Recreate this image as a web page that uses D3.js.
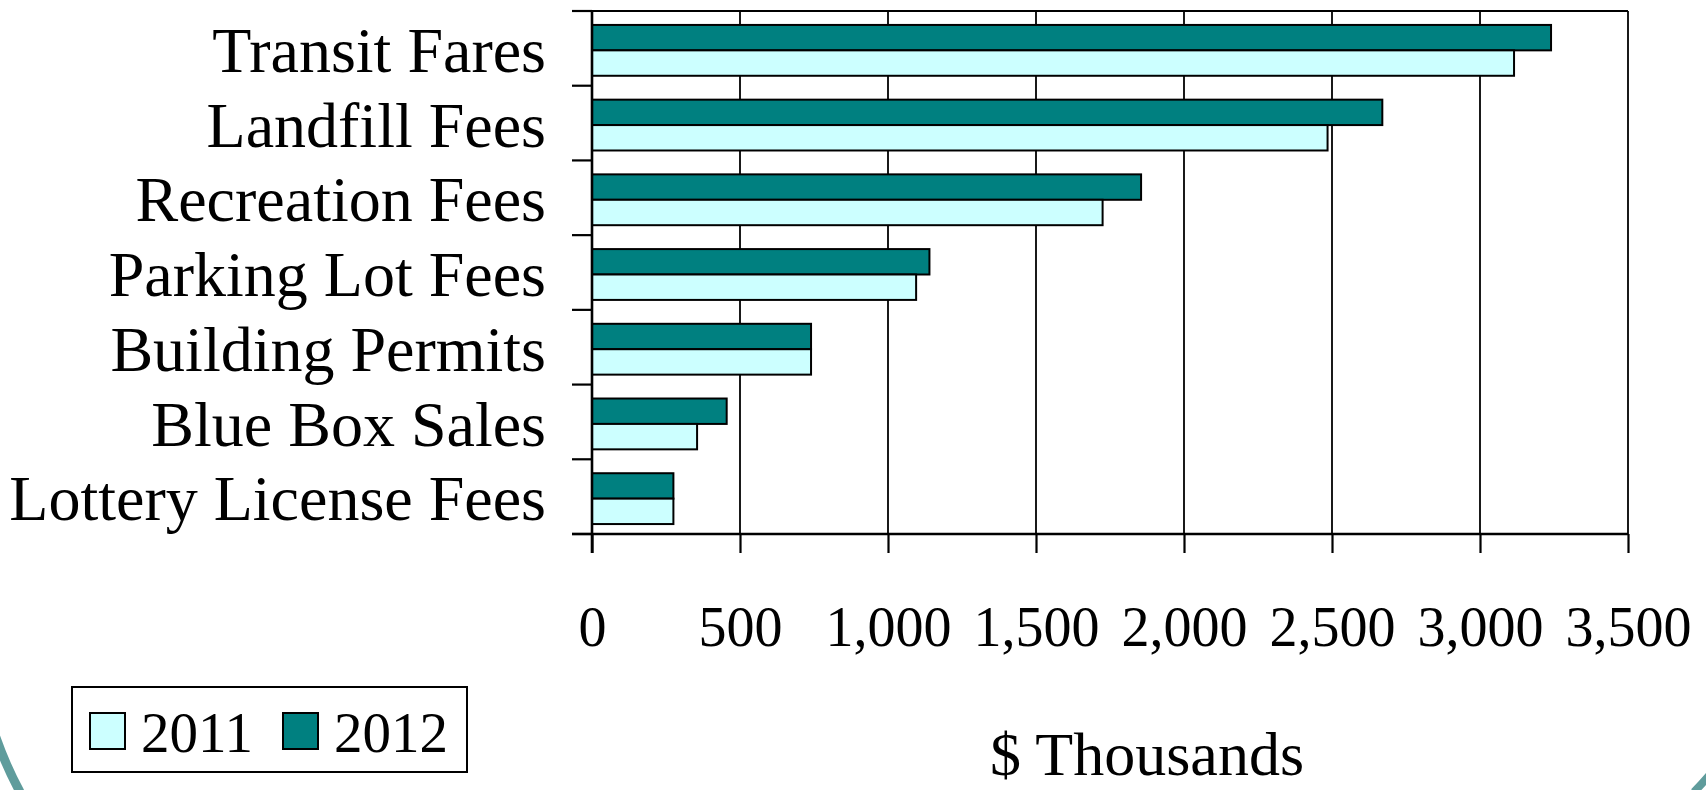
<!DOCTYPE html>
<html>
<head>
<meta charset="utf-8">
<script src="https://cdn.jsdelivr.net/npm/d3@7"></script>
<style>
  body { margin: 0; background: #fff; }
  svg { display: block; }
  text { font-family: "Liberation Serif", "Times New Roman", serif; fill: #000; }
</style>
</head>
<body>
<svg id="chart" width="1706" height="790"></svg>
<script>
// Chart data
const categories = [
  "Transit Fares",
  "Landfill Fees",
  "Recreation Fees",
  "Parking Lot Fees",
  "Building Permits",
  "Blue Box Sales",
  "Lottery License Fees"
];
const values2011 = [3115, 2485, 1725, 1095, 740, 355, 275];
const values2012 = [3240, 2670, 1855, 1140, 740, 455, 275];
const xTicks = [0, 500, 1000, 1500, 2000, 2500, 3000, 3500];
const legendYears = ["2011", "2012"];

const svg = d3.select("#chart");
const colors = { "2011": "#ccffff", "2012": "#008080" };

const plot = { left: 592, right: 1628, top: 11, bottom: 534 };

const x = d3.scaleLinear()
  .domain([0, 3500])
  .range([plot.left, plot.right]);

const y0 = d3.scaleBand()
  .domain(categories)
  .range([plot.top, plot.bottom])
  .padding(0);

// 2012 sits above 2011 inside each band
const y1 = d3.scaleBand()
  .domain(["2012", "2011"])
  .range([0, y0.bandwidth()])
  .paddingInner(0)
  .paddingOuter(0.47);

const rows = categories.map((c, i) => ({
  cat: c,
  bars: [
    { year: "2012", value: values2012[i] },
    { year: "2011", value: values2011[i] }
  ]
}));

// slide decoration in the corners
svg.append("path")
  .attr("d", "M -6 732 A 392 392 0 0 0 20 792")
  .attr("fill", "none")
  .attr("stroke", "#5f9c9c")
  .attr("stroke-width", 9);
svg.append("path")
  .attr("d", "M 1712 772 A 392 392 0 0 1 1694 792")
  .attr("fill", "none")
  .attr("stroke", "#5f9c9c")
  .attr("stroke-width", 8);

// vertical gridlines
svg.append("g")
  .selectAll("line")
  .data(xTicks.slice(1))
  .join("line")
  .attr("x1", d => x(d))
  .attr("x2", d => x(d))
  .attr("y1", plot.top)
  .attr("y2", plot.bottom)
  .attr("stroke", "#000")
  .attr("stroke-width", 1.8);

// top border of plot area
svg.append("line")
  .attr("x1", plot.left)
  .attr("x2", plot.right)
  .attr("y1", plot.top)
  .attr("y2", plot.top)
  .attr("stroke", "#000")
  .attr("stroke-width", 1.8);

// bars
const groups = svg.append("g")
  .selectAll("g")
  .data(rows)
  .join("g")
  .attr("transform", d => `translate(0,${y0(d.cat) + 2})`);

groups.selectAll("rect")
  .data(d => d.bars)
  .join("rect")
  .attr("x", x(0))
  .attr("y", d => y1(d.year))
  .attr("width", d => x(d.value) - x(0))
  .attr("height", y1.bandwidth())
  .attr("fill", d => colors[d.year])
  .attr("stroke", "#000")
  .attr("stroke-width", 2);

// x axis
const xAxis = d3.axisBottom(x)
  .tickValues(xTicks)
  .tickFormat(d3.format(","))
  .tickSize(19)
  .tickSizeOuter(0)
  .tickPadding(53);

const xAxisG = svg.append("g")
  .attr("transform", `translate(0,${plot.bottom})`)
  .call(xAxis);
xAxisG.select(".domain").remove();
xAxisG.selectAll(".tick line").attr("stroke", "#000").attr("stroke-width", 2.2);
xAxisG.selectAll("text")
  .style("font-size", "56px")
  .style("font-family", "'Liberation Serif', 'Times New Roman', serif");

svg.append("line")
  .attr("x1", plot.left - 20)
  .attr("x2", plot.right)
  .attr("y1", plot.bottom)
  .attr("y2", plot.bottom)
  .attr("stroke", "#000")
  .attr("stroke-width", 2.6);

// y axis: line + ticks on band boundaries
svg.append("line")
  .attr("x1", plot.left)
  .attr("x2", plot.left)
  .attr("y1", plot.top)
  .attr("y2", plot.bottom + 19)
  .attr("stroke", "#000")
  .attr("stroke-width", 2.6);

const boundaries = categories.map(c => y0(c)).concat([y0.range()[1]]);
svg.append("g")
  .selectAll("line")
  .data(boundaries)
  .join("line")
  .attr("x1", plot.left - 20)
  .attr("x2", plot.left)
  .attr("y1", d => d)
  .attr("y2", d => d)
  .attr("stroke", "#000")
  .attr("stroke-width", 2.2);

svg.append("g")
  .selectAll("text")
  .data(categories)
  .join("text")
  .attr("x", 546)
  .attr("y", d => y0(d) + y0.bandwidth() / 2)
  .attr("dy", "0.37em")
  .attr("text-anchor", "end")
  .style("font-size", "64px")
  .text(d => d);

// axis title
svg.append("text")
  .attr("x", 1147)
  .attr("y", 775)
  .attr("text-anchor", "middle")
  .style("font-size", "62px")
  .text("$ Thousands");

// legend
const legend = svg.append("g");
legend.append("rect")
  .attr("x", 72)
  .attr("y", 687)
  .attr("width", 395)
  .attr("height", 85)
  .attr("fill", "#fff")
  .attr("stroke", "#000")
  .attr("stroke-width", 2);

const items = legend.selectAll(".legend-item")
  .data(legendYears)
  .join("g")
  .attr("class", "legend-item")
  .attr("transform", (d, i) => `translate(${90 + i * 193},713)`);

items.append("rect")
  .attr("width", 35)
  .attr("height", 36)
  .attr("fill", d => colors[d])
  .attr("stroke", "#000")
  .attr("stroke-width", 2);

items.append("text")
  .attr("x", 51)
  .attr("y", 39)
  .style("font-size", "57px")
  .text(d => d);
</script>
</body>
</html>
